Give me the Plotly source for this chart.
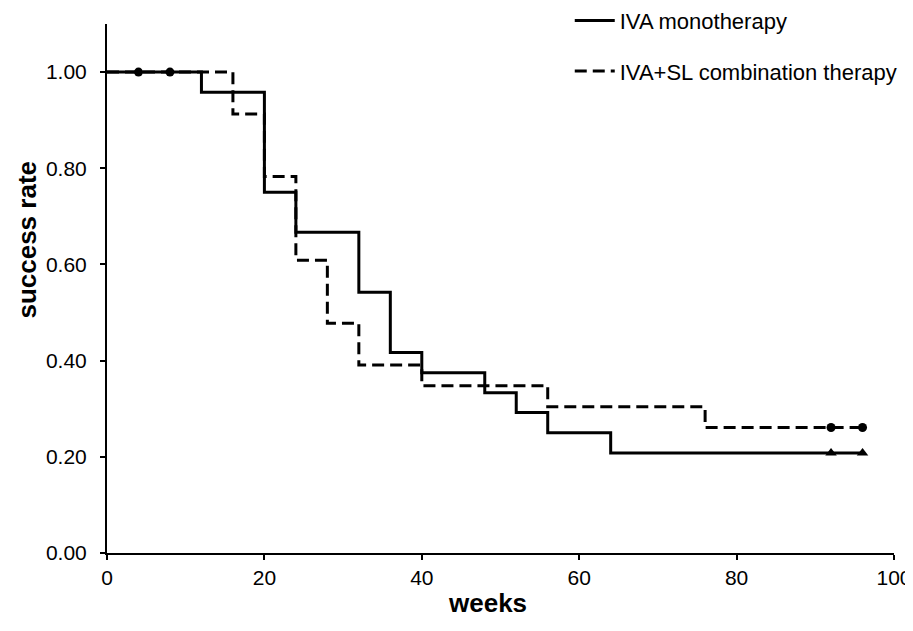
import plotly.graph_objects as go

# IVA monotherapy (solid) step data
mono_weeks = [0, 12, 20, 24, 32, 36, 40, 48, 52, 56, 64, 96]
mono_rate = [1.000, 0.958, 0.750, 0.667, 0.542, 0.417, 0.375, 0.333, 0.292, 0.250, 0.208, 0.208]
mono_cens_weeks = [92, 96]
mono_cens_rate = [0.208, 0.208]

# IVA+SL combination therapy (dashed) step data
combo_weeks = [0, 16, 20, 24, 28, 32, 40, 56, 76, 96]
combo_rate = [1.000, 0.913, 0.783, 0.609, 0.478, 0.391, 0.348, 0.304, 0.261, 0.261]
combo_cens_weeks = [4, 8, 92, 96]
combo_cens_rate = [1.000, 1.000, 0.261, 0.261]

x_ticks = [0, 20, 40, 60, 80, 100]
y_ticks = [0.0, 0.2, 0.4, 0.6, 0.8, 1.0]
y_tick_labels = ["0.00", "0.20", "0.40", "0.60", "0.80", "1.00"]

fig = go.Figure()
fig.add_trace(go.Scatter(x=mono_weeks, y=mono_rate, mode="lines", line_shape="hv",
                         line=dict(color="black", width=3), name="IVA monotherapy",
                         legendgroup="a"))
fig.add_trace(go.Scatter(x=combo_weeks, y=combo_rate, mode="lines", line_shape="hv",
                         line=dict(color="black", width=3, dash="12px,6px"),
                         name="IVA+SL combination therapy", legendgroup="b"))
fig.add_trace(go.Scatter(x=combo_cens_weeks, y=combo_cens_rate, mode="markers",
                         marker=dict(symbol="circle", size=9, color="black"),
                         showlegend=False))
fig.add_trace(go.Scatter(x=mono_cens_weeks, y=mono_cens_rate, mode="markers",
                         marker=dict(symbol="triangle-up", size=10, color="black"),
                         showlegend=False))

fig.update_layout(
    width=905, height=615,
    margin=dict(l=99, r=19, t=16, b=70, autoexpand=False),
    plot_bgcolor="white", paper_bgcolor="white",
    font=dict(family="Liberation Sans, Arial, sans-serif", color="black", size=21),
    legend=dict(x=0.588, y=1.046, xanchor="left", yanchor="top",
                font=dict(size=22), tracegroupgap=19, bgcolor="rgba(0,0,0,0)",
                itemwidth=40),
    xaxis=dict(range=[0, 100], tickvals=x_ticks, showgrid=False, zeroline=False,
               showline=True, linecolor="black", linewidth=2, ticks="outside",
               ticklen=5, tickcolor="black", tickwidth=2),
    yaxis=dict(range=[0, 1.1], tickvals=y_ticks, ticktext=y_tick_labels, showgrid=False,
               zeroline=False, showline=True, linecolor="black", linewidth=2,
               ticks="outside", ticklen=5, tickcolor="black", tickwidth=2,
               ticklabelstandoff=9),
    annotations=[
        dict(text="<b>weeks</b>", xref="paper", yref="paper", x=0.483, y=-0.095,
             xanchor="center", yanchor="middle", showarrow=False, font=dict(size=26)),
        dict(text="<b>success rate</b>", xref="paper", yref="paper", x=-0.102, y=0.592,
             xanchor="center", yanchor="middle", textangle=-90, showarrow=False,
             font=dict(size=26)),
    ],
)

fig.write_html("out.html")
